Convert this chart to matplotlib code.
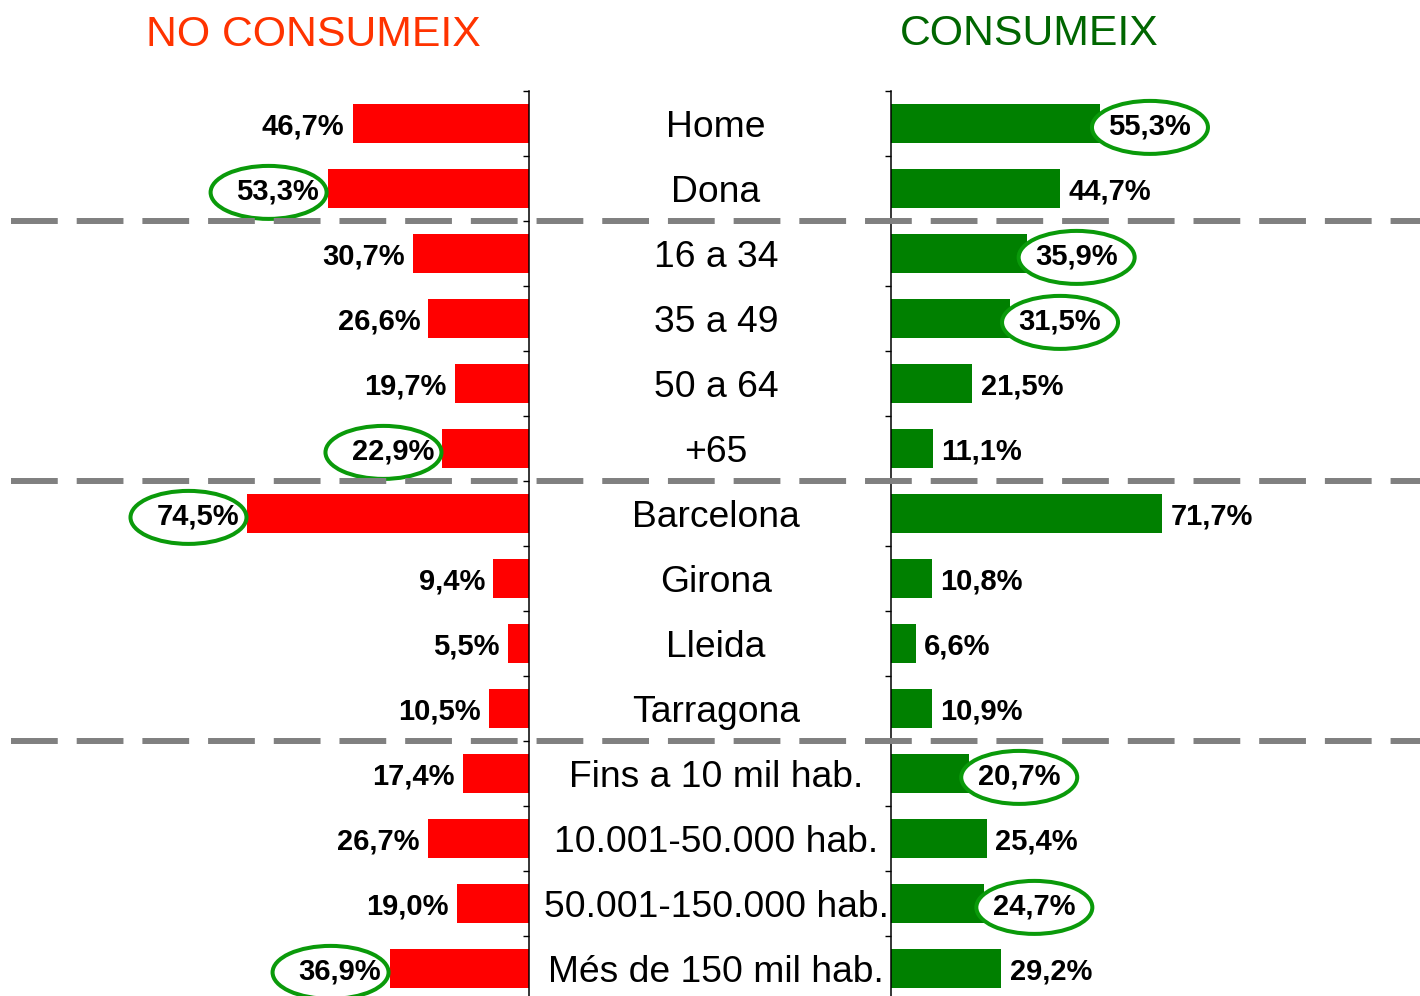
import numpy as np
import matplotlib
matplotlib.use('Agg')
import matplotlib.pyplot as plt
from matplotlib.patches import Ellipse
from matplotlib.lines import Line2D
from matplotlib.transforms import blended_transform_factory

plt.rcParams['font.family'] = ['Liberation Sans', 'DejaVu Sans']

categories = ['Home', 'Dona', '16 a 34', '35 a 49', '50 a 64', '+65',
              'Barcelona', 'Girona', 'Lleida', 'Tarragona',
              'Fins a 10 mil hab.', '10.001-50.000 hab.',
              '50.001-150.000 hab.', 'Més de 150 mil hab.']
no_consumeix = [46.7, 53.3, 30.7, 26.6, 19.7, 22.9, 74.5, 9.4, 5.5, 10.5,
                17.4, 26.7, 19.0, 36.9]
consumeix = [55.3, 44.7, 35.9, 31.5, 21.5, 11.1, 71.7, 10.8, 6.6, 10.9,
             20.7, 25.4, 24.7, 29.2]
group_sizes = [2, 4, 4, 4]
# rows with a circled value
marked_no = [1, 5, 6, 13]
marked_si = [0, 2, 3, 10, 12]

W, H = 1420, 996
fig = plt.figure(figsize=(W / 100, H / 100), dpi=100)

top = 1 - 91 / H
bottom = -5 / H
ax_l = fig.add_axes([0, bottom, 529 / W, top - bottom])
ax_r = fig.add_axes([891 / W, bottom, 529 / W, top - bottom])

y = np.arange(len(categories))
ax_l.barh(y, no_consumeix, height=0.585, color='#FF0000', zorder=2)
ax_r.barh(y, consumeix, height=0.585, color='#008000', zorder=2)

for ax in (ax_l, ax_r):
    ax.set_ylim(len(categories) - 0.5, -0.5)
    ax.set_xticks([])
    ax.set_yticks(np.arange(-0.5, len(categories), 1))
    ax.set_yticklabels([])
    for s in ax.spines.values():
        s.set_visible(False)
    ax.patch.set_alpha(0)

ax_l.set_xlim(140, 0)
ax_r.set_xlim(0, 140)
ax_l.spines['right'].set_visible(True)
ax_l.spines['right'].set_linewidth(1.1)
ax_l.yaxis.tick_right()
ax_l.tick_params(axis='y', direction='in', length=4.5, width=1)
ax_r.spines['left'].set_visible(True)
ax_r.spines['left'].set_linewidth(1.1)
ax_r.tick_params(axis='y', direction='out', length=4.5, width=1)


def fmt(v):
    return f'{v:.1f}'.replace('.', ',') + '%'


px = 529 / 140  # pixels per unit
ell_w = 116 / px
ell_h = 53 / 65

for i, v in enumerate(no_consumeix):
    ax_l.annotate(fmt(v), (v, i), xytext=(-6, -2), textcoords='offset points',
                  ha='right', va='center', fontsize=21, fontweight='bold',
                  zorder=5, annotation_clip=False)
    if i in marked_no:
        ax_l.add_patch(Ellipse((v + 59 / px, i + 0.06), ell_w, ell_h,
                               facecolor='white', edgecolor='#0A9A0A',
                               linewidth=2.9, zorder=4, clip_on=False))

for i, v in enumerate(consumeix):
    ax_r.annotate(fmt(v), (v, i), xytext=(6, -2), textcoords='offset points',
                  ha='left', va='center', fontsize=21, fontweight='bold',
                  zorder=5, annotation_clip=False)
    if i in marked_si:
        ax_r.add_patch(Ellipse((v + 50 / px, i + 0.06), ell_w, ell_h,
                               facecolor='white', edgecolor='#0A9A0A',
                               linewidth=2.9, zorder=4, clip_on=False))

# category names between the two panels
tr = blended_transform_factory(fig.transFigure, ax_l.transData)
for i, c in enumerate(categories):
    ax_l.text(716 / W, i + 0.06, c, transform=tr, ha='center', va='center',
              fontsize=26.8, clip_on=False)

# dashed separators between groups
bounds = np.cumsum(group_sizes)[:-1] - 0.5
for b in bounds:
    fig.add_artist(Line2D([11 / W, 1], [b, b], transform=tr, color='#808080',
                          linewidth=4.3, linestyle=(0, (7.83, 3.17)),
                          zorder=3))

fig.text(313 / W, 1 - 35 / H, 'NO CONSUMEIX', color='#FF3300', fontsize=30.8,
         ha='center', va='center')
fig.text(1029 / W, 1 - 34 / H, 'CONSUMEIX', color='#006600', fontsize=30.8,
         ha='center', va='center')

fig.savefig('out.png', dpi=100)
